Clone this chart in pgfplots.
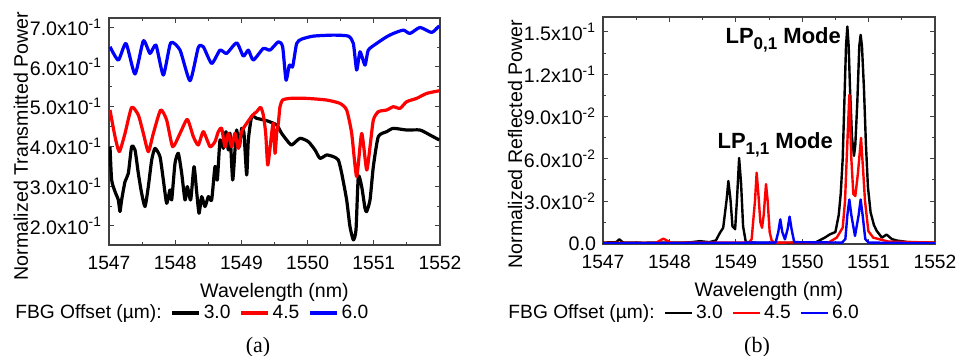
\documentclass[border=0pt]{standalone}
\usepackage{fontspec}
\setmainfont{Liberation Sans}
\newfontfamily\timesfont{Liberation Serif}
\usepackage{pgfplots}
\pgfplotsset{compat=1.18}
\pgfplotsset{
  myaxis/.style={
    scale only axis,
    width=165.5pt, height=113.5pt,
    xmin=1547, xmax=1552,
    xtick={1547,1548,1549,1550,1551,1552},
    xticklabels={1547,1548,1549,1550,1551,1552},
    minor x tick num=1, minor y tick num=1,
    tick align=inside,
    major tick length=2.5pt, minor tick length=1.5pt,
    axis line style={black!75, line width=0.6pt},
    tick style={black!75, line width=0.5pt},
    xticklabel style={font=\fontsize{9.6}{11}\selectfont, yshift=-2pt},
    yticklabel style={font=\fontsize{9.8}{11}\selectfont},
    label style={font=\fontsize{9.8}{11}\selectfont},
    xlabel={Wavelength (nm)},
    xlabel style={at={(axis description cs:0.5,-0.207)}, anchor=center},
    legend columns=-1,
    legend style={draw=none, fill=none, font=\fontsize{9.6}{11}\selectfont,
      inner sep=0pt, nodes={inner sep=1.5pt},
      /tikz/every even column/.append style={column sep=3pt}},
    legend image code/.code={\draw[#1] (0pt,0pt) -- (13.5pt,0pt);},
  }
}
\begin{document}
\begin{tikzpicture}
\useasboundingbox (0,0) rectangle (479.5pt,178pt);
% ---------------- panel (a)
\begin{axis}[myaxis,
  at={(54.5pt,55.5pt)}, anchor=south west,
  ymin=0.152, ymax=0.723,
  ytick={0.2,0.3,0.4,0.5,0.6,0.7},
  yticklabels={2.0x10\textsuperscript{-1},3.0x10\textsuperscript{-1},4.0x10\textsuperscript{-1},5.0x10\textsuperscript{-1},6.0x10\textsuperscript{-1},7.0x10\textsuperscript{-1}},
  ylabel={Normalized Transmitted Power},
  ylabel style={at={(axis description cs:-0.266,0.436)}, anchor=center},
  legend style={at={(axis description cs:-0.293,-0.2996)}, anchor=west},
  every axis plot/.append style={line width=1.6pt, line join=round, smooth, tension=0.35},
]
\addlegendimage{empty legend}\addlegendentry{FBG Offset (µm):}
\addplot[black] coordinates {
(1547.015,0.3993)(1547.040,0.3156)(1547.091,0.2863)(1547.141,0.2653)(1547.166,0.2360)
(1547.191,0.2653)(1547.242,0.3114)(1547.292,0.3323)(1547.342,0.3993)(1547.393,0.3910)
(1547.443,0.3323)(1547.493,0.2821)(1547.544,0.2486)(1547.594,0.2988)(1547.645,0.3658)
(1547.695,0.3951)(1547.770,0.3742)(1547.821,0.3156)(1547.871,0.2570)(1547.921,0.2905)
(1547.947,0.2653)(1547.997,0.3575)(1548.047,0.3826)(1548.098,0.3323)(1548.148,0.2653)
(1548.183,0.2988)(1548.234,0.2653)(1548.284,0.3491)(1548.324,0.2863)(1548.360,0.2318)
(1548.400,0.2737)(1548.450,0.2486)(1548.501,0.2737)(1548.551,0.2653)(1548.601,0.3491)
(1548.636,0.3156)(1548.677,0.4161)(1548.727,0.3951)(1548.767,0.4370)(1548.803,0.3910)
(1548.828,0.4328)(1548.868,0.3156)(1548.903,0.3910)(1548.928,0.4412)(1548.969,0.3993)
(1549.004,0.4454)(1549.039,0.4328)(1549.080,0.3281)(1549.105,0.4161)(1549.155,0.4747)
(1549.231,0.4705)(1549.382,0.4647)(1549.533,0.4538)(1549.608,0.4328)(1549.684,0.4161)
(1549.759,0.4035)(1549.885,0.4203)(1550.011,0.4119)(1550.112,0.3910)(1550.187,0.3700)
(1550.288,0.3784)(1550.389,0.3742)(1550.464,0.3658)(1550.515,0.3323)(1550.590,0.2653)
(1550.640,0.1983)(1550.691,0.1648)(1550.731,0.1899)(1550.766,0.3240)(1550.817,0.2988)
(1550.867,0.2444)(1550.892,0.2360)(1550.943,0.2653)(1550.993,0.3491)(1551.068,0.4245)
(1551.194,0.4370)(1551.295,0.4454)(1551.496,0.4412)(1551.698,0.4412)(1551.849,0.4286)
(1551.990,0.4161)
};
\addlegendentry{3.0}
\addplot[red] coordinates {
(1547.015,0.4915)(1547.091,0.4245)(1547.156,0.3868)(1547.242,0.4328)(1547.342,0.4982)
(1547.443,0.4789)(1547.519,0.4328)(1547.594,0.3868)(1547.670,0.4328)(1547.780,0.4915)
(1547.871,0.4663)(1547.962,0.3993)(1548.073,0.4328)(1548.183,0.4680)(1548.274,0.4245)
(1548.349,0.4035)(1548.425,0.4370)(1548.526,0.3993)(1548.601,0.4119)(1548.651,0.4370)
(1548.702,0.4454)(1548.752,0.3993)(1548.803,0.4328)(1548.853,0.3993)(1548.903,0.4328)
(1548.954,0.3951)(1549.004,0.4370)(1549.080,0.4580)(1549.170,0.4789)(1549.231,0.4873)
(1549.291,0.4982)(1549.331,0.4789)(1549.367,0.4328)(1549.397,0.3533)(1549.432,0.3951)
(1549.457,0.4328)(1549.482,0.4580)(1549.508,0.3826)(1549.533,0.4328)(1549.558,0.4580)
(1549.583,0.4998)(1549.623,0.5166)(1549.734,0.5208)(1549.986,0.5208)(1550.288,0.5166)
(1550.489,0.5082)(1550.590,0.4915)(1550.666,0.4328)(1550.741,0.3240)(1550.817,0.4328)
(1550.892,0.3407)(1550.943,0.3993)(1550.993,0.4663)(1551.068,0.4873)(1551.194,0.4915)
(1551.295,0.4998)(1551.396,0.4956)(1551.496,0.5124)(1551.647,0.5208)(1551.799,0.5333)
(1551.990,0.5400)
};
\addlegendentry{4.5}
\addplot[blue] coordinates {
(1547.015,0.6506)(1547.141,0.6171)(1547.257,0.6590)(1547.393,0.5820)(1547.519,0.6657)
(1547.619,0.6338)(1547.710,0.6548)(1547.821,0.5794)(1547.932,0.6606)(1548.073,0.6422)
(1548.224,0.5652)(1548.349,0.6489)(1548.425,0.6506)(1548.551,0.6087)(1548.677,0.6422)
(1548.777,0.6338)(1548.929,0.6606)(1549.029,0.6271)(1549.105,0.6422)(1549.180,0.6171)
(1549.331,0.6464)(1549.432,0.6422)(1549.558,0.6631)(1549.623,0.6506)(1549.674,0.5668)
(1549.724,0.6045)(1549.774,0.6003)(1549.835,0.6590)(1549.910,0.6698)(1550.087,0.6774)
(1550.389,0.6799)(1550.615,0.6774)(1550.691,0.6590)(1550.741,0.5920)(1550.792,0.6380)
(1550.867,0.6045)(1550.917,0.6422)(1551.043,0.6590)(1551.194,0.6757)(1551.295,0.6841)
(1551.446,0.6925)(1551.547,0.6841)(1551.698,0.6992)(1551.874,0.6866)(1551.990,0.7034)
};
\addlegendentry{6.0}
\end{axis}
% ---------------- panel (b)
\begin{axis}[myaxis,
  at={(301.5pt,56pt)}, anchor=south west, width=166pt,
  ymin=-0.0005, ymax=0.1606,
  ytick={0,0.03,0.06,0.09,0.12,0.15},
  yticklabels={0.0,3.0x10\textsuperscript{-2},6.0x10\textsuperscript{-2},9.0x10\textsuperscript{-2},1.2x10\textsuperscript{-1},1.5x10\textsuperscript{-1}},
  ylabel={Normalized Reflected Power},
  ylabel style={at={(axis description cs:-0.265,0.44)}, anchor=center},
  legend style={at={(axis description cs:-0.295,-0.304)}, anchor=west},
  every axis plot/.append style={line width=1.2pt, line join=round},
]
\addlegendimage{empty legend}\addlegendentry{FBG Offset (µm):}
\addplot[black] coordinates {
(1547.0,0.0005)(1547.2,0.0008)(1547.246,0.0028)(1547.3,0.0006)(1547.6,0.0004)(1548.0,0.0005)
(1548.3,0.0006)(1548.46,0.0015)(1548.6,0.0008)(1548.7,0.002)(1548.762,0.0075)(1548.81,0.011)
(1548.862,0.031)(1548.888,0.0442)(1548.92,0.031)(1548.95,0.012)(1548.99,0.010)(1549.02,0.033)
(1549.05,0.0605)(1549.08,0.042)(1549.11,0.012)(1549.15,0.001)(1549.3,0.0004)(1549.8,0.0004)
(1550.2,0.0006)(1550.34,0.004)(1550.42,0.0064)(1550.50,0.008)(1550.55,0.02)(1550.58,0.035)
(1550.61,0.06)(1550.635,0.10)(1550.66,0.14)(1550.68,0.1538)(1550.70,0.14)(1550.72,0.11)
(1550.75,0.075)(1550.78,0.062)(1550.80,0.07)(1550.83,0.10)(1550.86,0.14)(1550.88,0.1479)
(1550.90,0.14)(1550.93,0.11)(1550.96,0.07)(1550.99,0.04)(1551.03,0.022)(1551.08,0.013)
(1551.12,0.009)(1551.2,0.004)(1551.27,0.0062)(1551.35,0.003)(1551.42,0.002)(1551.6,0.0008)
(1552,0.0005)
};
\addlegendentry{3.0}
\addplot[red] coordinates {
(1547.0,0.0003)(1547.8,0.0004)(1547.86,0.002)(1547.909,0.0033)(1547.96,0.002)(1548.02,0.0004)
(1549.2,0.0005)(1549.239,0.003)(1549.27,0.02)(1549.289,0.03)(1549.314,0.0501)(1549.34,0.035)
(1549.37,0.015)(1549.395,0.011)(1549.42,0.02)(1549.455,0.042)(1549.48,0.03)(1549.51,0.008)
(1549.54,0.002)(1549.58,0.0005)(1550.4,0.0006)(1550.52,0.004)(1550.61,0.0111)(1550.645,0.03)
(1550.67,0.06)(1550.71,0.1054)(1550.74,0.06)(1550.77,0.035)(1550.80,0.0335)(1550.84,0.05)
(1550.886,0.0748)(1550.92,0.05)(1550.946,0.03)(1550.996,0.0087)(1551.07,0.004)(1551.3,0.0012)
(1552,0.0005)
};
\addlegendentry{4.5}
\addplot[blue] coordinates {
(1547.0,0.0)(1549.6,0.0005)(1549.64,0.008)(1549.67,0.017)(1549.70,0.008)(1549.74,0.0028)
(1549.78,0.01)(1549.81,0.0189)(1549.84,0.01)(1549.88,0.0008)(1550.6,0.0005)(1550.65,0.003)
(1550.68,0.02)(1550.71,0.0311)(1550.74,0.02)(1550.795,0.0052)(1550.85,0.02)(1550.88,0.0311)
(1550.91,0.02)(1550.95,0.003)(1551.0,0.0005)(1552,0.0)
};
\addlegendentry{6.0}
\node[anchor=base west, font=\bfseries\fontsize{11}{12}\selectfont, inner sep=0pt]
  at (axis cs:1548.84,0.1415) {LP\raisebox{-3pt}{\fontsize{8.5}{9}\selectfont 0,1} Mode};
\node[anchor=base west, font=\bfseries\fontsize{11}{12}\selectfont, inner sep=0pt]
  at (axis cs:1548.72,0.0672) {LP\raisebox{-3pt}{\fontsize{8.5}{9}\selectfont 1,1} Mode};
\end{axis}
\node[font=\timesfont\fontsize{11}{13}\selectfont] at (129pt,4.5pt) {(a)};
\node[font=\timesfont\fontsize{11}{13}\selectfont] at (378.5pt,4.5pt) {(b)};
\end{tikzpicture}
\end{document}
